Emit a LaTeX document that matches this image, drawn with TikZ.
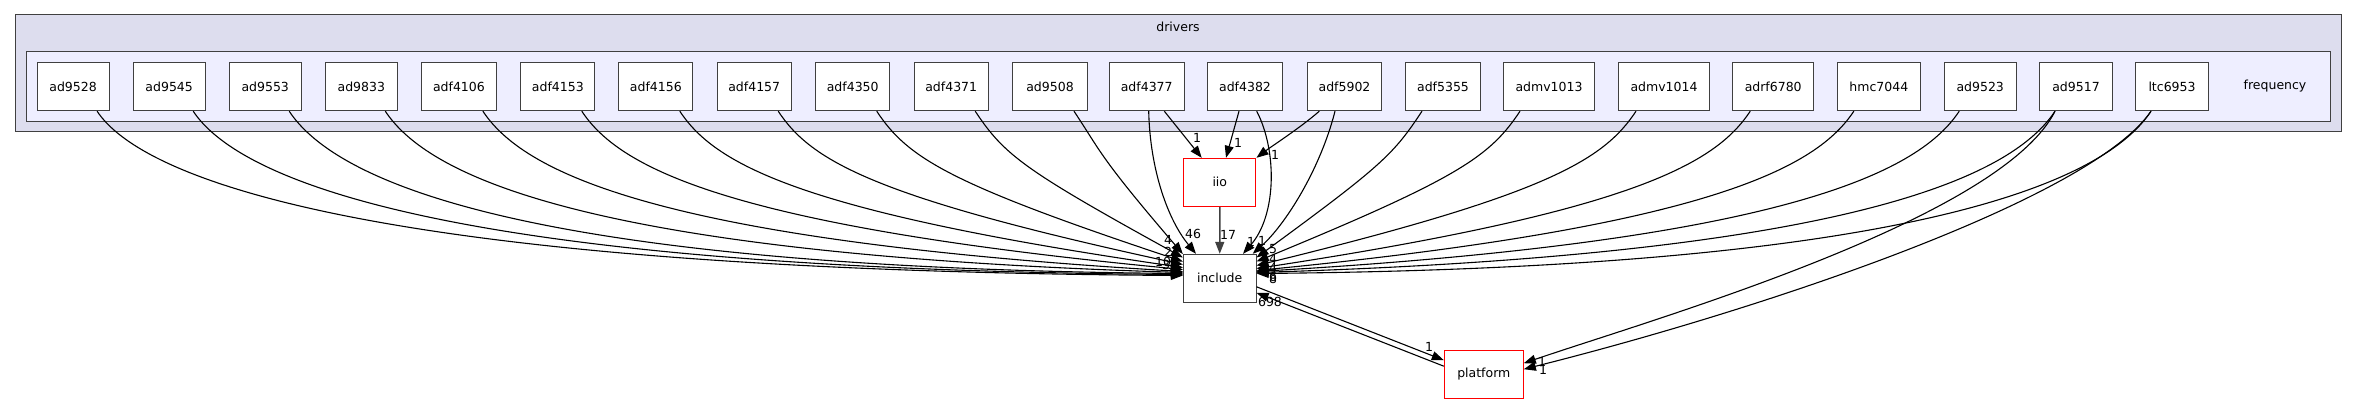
\documentclass[tikz,border=0pt]{standalone}
\usepackage{fontspec}
\setmainfont{DejaVu Sans}
\usetikzlibrary{arrows.meta,calc}
\definecolor{bord}{HTML}{404040}
\definecolor{outerfill}{HTML}{DDDDEE}
\definecolor{innerfill}{HTML}{EEEEFF}
\definecolor{redb}{HTML}{FF0000}
\begin{document}
\begin{tikzpicture}[x=1pt,y=-1pt,
  font=\fontsize{12.5}{15}\selectfont,
  cluster/.style={draw=bord,line width=1pt,inner sep=0pt},
  dirnode/.style={draw=bord,line width=1pt,fill=white,minimum height=48.4pt,inner sep=0pt},
  rednode/.style={draw=redb,line width=1pt,fill=white,minimum height=48pt,inner sep=0pt},
  dep/.style={draw=black,line width=1.1pt,-{Triangle[length=12pt,width=9pt]}},
  lab/.style={inner sep=0pt}
]
\useasboundingbox (0,0) rectangle (2357,404);
% clusters
\node[cluster,fill=outerfill,minimum width=2325.7pt,minimum height=116.7pt] (drivers) at (1178.15,73.35) {};
\node[lab] (driverslab) at (1178,27) {drivers};
\node[cluster,fill=innerfill,minimum width=2304pt,minimum height=69.3pt] (frequency) at (1178,86.35) {};
\node[lab] (freqlab) at (2275,86.5) {frequency};
% sub directories
\foreach \nm/\cx/\w in {ad9528/73.1/72, ad9545/169.2/72, ad9553/265.2/72, ad9833/361.3/72,
  adf4106/458.9/75, adf4153/557.8/74.3, adf4156/655.8/74.3, adf4157/754.2/74.3,
  adf4350/852.7/74.3, adf4371/951.2/74.3, ad9508/1050/74.3, adf4377/1146.7/74.7,
  adf4382/1245/74.5, adf5902/1344.5/74.5, adf5355/1443/75.3, admv1013/1549/90.7,
  admv1014/1664/90.7, adrf6780/1773.2/80.5, hmc7044/1878.8/83.5, ad9523/1980.2/72.4,
  ad9517/2076/72.6, ltc6953/2172/72.6}
  {\node[dirnode,minimum width=\w pt] (\nm) at (\cx,86.5) {\nm};}
% other directories
\node[rednode,minimum width=72.3pt] (iio) at (1219.8,182.3) {iio};
\node[dirnode,minimum width=72.7pt,minimum height=48pt] (include) at (1219.7,278.3) {include};
\node[rednode,minimum width=79pt,minimum height=47.6pt] (platform) at (1483.8,374.5) {platform};
% left edges to include
\foreach \nm/\cx/\ye in {ad9528/73.1/276, ad9545/169.2/275, ad9553/265.2/274, ad9833/361.3/273,
  adf4106/458.9/272, adf4153/557.8/270, adf4156/655.8/268, adf4157/754.2/265,
  adf4350/852.7/262, adf4371/951.2/258, ad9508/1050/254.5}
{
  \pgfmathsetmacro\mysx{\cx+24}
  \pgfmathsetmacro\mydx{1183.3-\mysx}
  \pgfmathsetmacro\myf{min(1,\mydx/900)}
  \pgfmathsetmacro\myg{0.6+0.4*\myf}
  \pgfmathsetmacro\pax{\mysx+42*\myg}
  \pgfmathsetmacro\pay{110.7+64*\myg}
  \pgfmathsetmacro\pbx{\mysx+0.232*\mydx}
  \pgfmathsetmacro\myyl{110.7+0.232*(\ye-110.7)}
  \pgfmathsetmacro\pby{\myyl+\myf*(\ye-6-\myyl)}
  \draw[dep] ([xshift=24pt]\nm.south) .. controls (\pax,\pay) and (\pbx,\pby) .. ($(include.north west)+(0,\ye-254.3)$);
}
% right edges to include
\foreach \nm/\cx/\off/\ye in {adf5355/1443/21/258, admv1013/1549/29/262, admv1014/1664/28/266,
  adrf6780/1773.2/23/269, hmc7044/1878.8/25/271, ad9523/1980.2/21/272,
  ad9517/2076/21/273, ltc6953/2172/21/274}
{
  \pgfmathsetmacro\mysx{\cx-\off}
  \pgfmathsetmacro\mydx{\mysx-1256}
  \pgfmathsetmacro\myf{min(1,\mydx/900)}
  \pgfmathsetmacro\myg{0.6+0.4*\myf}
  \pgfmathsetmacro\pax{\mysx-42*\myg}
  \pgfmathsetmacro\pay{110.7+64*\myg}
  \pgfmathsetmacro\pbx{\mysx-0.232*\mydx}
  \pgfmathsetmacro\myyl{110.7+0.232*(\ye-110.7)}
  \pgfmathsetmacro\pby{\myyl+\myf*(\ye-6-\myyl)}
  \draw[dep] ([xshift=-\off pt]\nm.south) .. controls (\pax,\pay) and (\pbx,\pby) .. ($(include.north east)+(0,\ye-254.3)$);
}
% edges around iio
\draw[dep] ([xshift=17.6pt]adf4377.south) -- ([xshift=-18.1pt]iio.north);
\draw[dep] ([xshift=-6pt]adf4382.south) -- ([xshift=6.2pt]iio.north);
\draw[dep] ([xshift=-25.2pt]adf5902.south) .. controls (1300,128) and (1272,146) .. (iio.north east);
\draw[dep] ([xshift=2pt]adf4377.south) .. controls (1150,170) and (1168,220) .. ([xshift=-23.7pt]include.north);
\draw[dep] ([xshift=11.7pt]adf4382.south) .. controls (1277,150) and (1277,215) .. ([xshift=23.3pt]include.north);
\draw[dep] ([xshift=-9.5pt]adf5902.south) .. controls (1320,170) and (1285,225) .. ([xshift=33pt]include.north);
\draw[dep,draw=bord,line width=1.5pt] (iio) -- (include);
% include <-> platform
\draw[dep] ($(include.north east)+(0,33)$) -- ($(platform.north west)+(0,10)$);
\draw[dep] ($(platform.north west)+(0,16)$) -- ($(include.north east)+(0,39)$);
% to platform
\draw[dep] ([xshift=-21pt]ad9517.south) .. controls (2000,220) and (1650,320) .. ($(platform.north east)+(0,13)$);
\draw[dep] ([xshift=-21pt]ltc6953.south) .. controls (2090,200) and (1760,310) .. ($(platform.north east)+(0,19)$);
% edge labels
\node[lab] (l1) at (1197,138) {1};
\node[lab] (l2) at (1238,143) {1};
\node[lab] (l3) at (1275,155) {1};
\node[lab] (l4) at (1168,240) {4};
\node[lab] (l5) at (1193,234) {46};
\node[lab] (l6) at (1228,235) {17};
\node[lab] (l7) at (1168,252) {2};
\node[lab] (l8) at (1163,262) {10};
\node[lab] (l9) at (1166,265) {3};
\node[lab] (l10) at (1251,242) {1};
\node[lab] (l11) at (1262,241) {1};
\node[lab] (l12) at (1273,249) {5};
\node[lab] (l13) at (1273,259) {4};
\node[lab] (l14) at (1273,268) {4};
\node[lab] (l15) at (1273,277) {6};
\node[lab] (l16) at (1273,279) {8};
\node[lab] (l17) at (1270,302) {698};
\node[lab] (l18) at (1429,347) {1};
\node[lab] (l19) at (1542,362) {1};
\node[lab] (l20) at (1543,370) {1};
\end{tikzpicture}
\end{document}
